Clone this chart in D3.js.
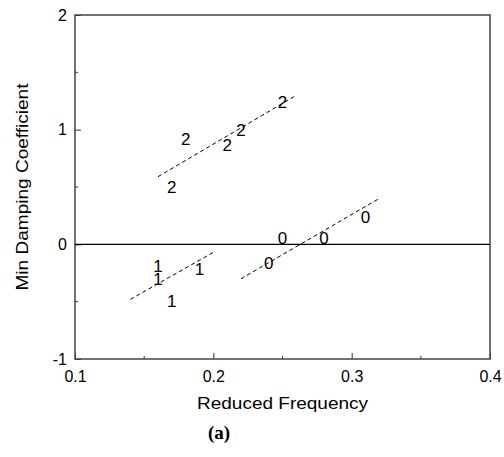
<html>
<meta charset="utf-8">
<script src="https://d3js.org/d3.v7.min.js"></script>
<style>
  body { margin: 0; background: #fff; }
  text { font-family: "Liberation Sans", Arial, sans-serif; }
</style>
<div id="chart"></div>
<script>
// points, one array per case (label drawn as the marker)
let case0X = [0.25, 0.28, 0.31, 0.24]
let case0Y = [0.05, 0.05, 0.23, -0.17]
let case1X = [0.16, 0.16, 0.19, 0.17]
let case1Y = [-0.19, -0.31, -0.22, -0.50]
let case2X = [0.18, 0.21, 0.22, 0.25, 0.17]
let case2Y = [0.91, 0.86, 0.99, 1.24, 0.50]

// fitted dashed lines: [x0, x1], [y0, y1]
let fit0X = [0.22, 0.32], fit0Y = [-0.30, 0.40]
let fit1X = [0.14, 0.20], fit1Y = [-0.48, -0.07]
let fit2X = [0.16, 0.26], fit2Y = [0.59, 1.30]

let xTicks = [0.1, 0.2, 0.3, 0.4]
let xMinor = [0.15, 0.25, 0.35]
let yTicks = [-1, 0, 1, 2]
let yMinor = [-0.5, 0.5, 1.5]

let width = 504, height = 457
let mLeft = 75, mRight = 490, mTop = 15, mBottom = 359

let svg = d3.select("#chart").append("svg")
  .attr("width", width)
  .attr("height", height)

let x = d3.scaleLinear().domain([0.1, 0.4]).range([mLeft, mRight])
let y = d3.scaleLinear().domain([-1, 2]).range([mBottom, mTop])

// ticks (inward, left and bottom only)
let xAxis = svg.append("g").attr("transform", "translate(0," + mBottom + ")")
  .call(d3.axisBottom(x).tickValues(xTicks).tickSizeInner(-6).tickSizeOuter(0).tickPadding(12).tickFormat(d => d.toFixed(1)))
xAxis.append("g").selectAll("line").data(xMinor).join("line")
  .attr("x1", d => x(d)).attr("x2", d => x(d)).attr("y1", 0).attr("y2", -3)
  .attr("stroke", "#333")
let yAxis = svg.append("g").attr("transform", "translate(" + mLeft + ",0)")
  .call(d3.axisLeft(y).tickValues(yTicks).tickSizeInner(-6).tickSizeOuter(0).tickPadding(8).tickFormat(d => String(d)))
yAxis.append("g").selectAll("line").data(yMinor).join("line")
  .attr("y1", d => y(d)).attr("y2", d => y(d)).attr("x1", 0).attr("x2", 3)
  .attr("stroke", "#333")
svg.selectAll(".domain").remove()
svg.selectAll(".tick line").attr("stroke", "#333")
svg.selectAll(".tick text").attr("font-size", 16).attr("fill", "#000")
  .style("font-family", "'Liberation Sans', Arial, sans-serif")

// frame
svg.append("rect")
  .attr("x", mLeft).attr("y", mTop)
  .attr("width", mRight - mLeft).attr("height", mBottom - mTop)
  .attr("fill", "none").attr("stroke", "#444").attr("stroke-width", 1.5)

// zero line
svg.append("line")
  .attr("x1", x(0.1)).attr("x2", x(0.4)).attr("y1", y(0)).attr("y2", y(0))
  .attr("stroke", "#000").attr("stroke-width", 1.2)

// dashed fits
let fits = [[fit0X, fit0Y], [fit1X, fit1Y], [fit2X, fit2Y]]
svg.selectAll(".fit").data(fits).join("line")
  .attr("class", "fit")
  .attr("x1", d => x(d[0][0])).attr("x2", d => x(d[0][1]))
  .attr("y1", d => y(d[1][0])).attr("y2", d => y(d[1][1]))
  .attr("stroke", "#000").attr("stroke-width", 1)
  .attr("stroke-dasharray", "4,3")

// point labels
let groups = [["0", case0X, case0Y], ["1", case1X, case1Y], ["2", case2X, case2Y]]
groups.forEach(function(g) {
  let pts = g[1].map((v, i) => [v, g[2][i]])
  svg.append("g").selectAll("text").data(pts).join("text")
    .attr("x", d => x(d[0]))
    .attr("y", d => y(d[1]))
    .attr("text-anchor", "middle")
    .attr("dominant-baseline", "central")
    .attr("font-size", 17)
    .text(g[0])
})

// axis titles
svg.append("text")
  .attr("x", (mLeft + mRight) / 2).attr("y", 403)
  .attr("text-anchor", "middle").attr("dominant-baseline", "central")
  .attr("font-size", 17)
  .attr("textLength", 171).attr("lengthAdjust", "spacingAndGlyphs")
  .text("Reduced Frequency")
svg.append("text")
  .attr("transform", "translate(22," + (mTop + mBottom) / 2 + ") rotate(-90)")
  .attr("text-anchor", "middle").attr("dominant-baseline", "central")
  .attr("font-size", 17)
  .attr("textLength", 207).attr("lengthAdjust", "spacingAndGlyphs")
  .text("Min Damping Coefficient")

// caption
svg.append("text")
  .attr("x", 219).attr("y", 432)
  .attr("text-anchor", "middle").attr("dominant-baseline", "central")
  .attr("font-size", 19).attr("font-weight", "bold")
  .style("font-family", "'Liberation Serif', 'Times New Roman', serif")
  .text("(a)")
</script>
</html>
